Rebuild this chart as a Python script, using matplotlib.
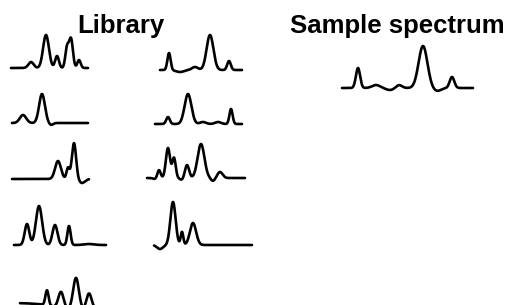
import numpy as np
import matplotlib.pyplot as plt

# each spectrum: list of peaks (centre, height, width), in local units
# (x measured from the start of the trace, height above its baseline)
lib1 = [(20, 6, 2.6), (35, 33, 2.9), (46, 12, 1.9), (56, 20, 1.7), (60, 29, 1.9), (68, 8, 1.7)]
lib2 = [(9, 17, 1.6), (20, -2, 4), (35, 3, 3), (50, 35, 3.4), (69, 9, 1.8)]
lib3 = [(11, 8, 3.2), (30, 29, 2.9), (39, -2, 2)]
lib4 = [(13, 7, 1.8), (33, 30, 3.4), (48, 2, 3), (63, 2, 3), (76, 15, 1.6)]
lib5 = [(46, 18, 2.9), (56, 11, 1.5), (62, 36, 2.1), (70, -4, 3)]
lib6 = [(8, -1, 2), (12, 8, 1.6), (21, 30, 2.1), (27, 20, 1.7), (35, -2, 2), (40, 13, 2.1),
        (54, 34, 3.4), (66, -3, 2), (73, 6, 2.6)]
lib7 = [(13, 21, 2.3), (25, 39, 3.1), (41, 20, 2.5), (55, 19, 1.6), (75, 1, 5)]
lib8 = [(6, -4, 3), (19, 43, 2.6), (28, 13, 1.3), (39, 22, 3.1)]
lib9 = [(27, 15, 1.6), (41, 16, 2.6), (56, 32, 2.9), (69, 16, 2.6), (60, -7, 22)]
sample = [(16, 20, 2.1), (34, 3, 4), (48, -2, 4), (57, 3, 3), (81, 42, 4.4), (95, -3, 4), (110, 11, 2.3)]

library = [lib1, lib2, lib3, lib4, lib5, lib6, lib7, lib8, lib9]
lengths = [77, 82, 76, 87, 77, 98, 92, 98, 82]

titles = ["Library", "Sample spectrum"]

# layout (pixels): start x, baseline y of each trace
lib_pos = [(11, 68), (160, 70), (12, 123), (155, 124), (12, 179),
           (147, 178), (14, 245), (154, 245), (20, 303)]
sample_pos = (342, 88)
sample_len = 131


def trace(peaks, length):
    x = np.linspace(0, length, 400)
    y = np.zeros_like(x)
    for c, h, w in peaks:
        y += h * np.exp(-0.5 * ((x - c) / w) ** 2)
    return x, y


fig = plt.figure(figsize=(5.07, 3.05), dpi=100)
ax = fig.add_axes([0, 0, 1, 1])
ax.set_xlim(0, 507)
ax.set_ylim(305, 0)
ax.axis("off")

for peaks, n, (x0, y0) in zip(library, lengths, lib_pos):
    x, y = trace(peaks, n)
    ax.plot(x0 + x, y0 - y, color="black", lw=1.9, solid_capstyle="round")

x, y = trace(sample, sample_len)
ax.plot(sample_pos[0] + x, sample_pos[1] - y, color="black", lw=1.9, solid_capstyle="round")

ax.text(121, 33, titles[0], ha="center", va="baseline", fontsize=18.5,
        fontweight="bold", family="Liberation Sans")
ax.text(397, 33, titles[1], ha="center", va="baseline", fontsize=18.5,
        fontweight="bold", family="Liberation Sans")

fig.savefig("out.png", dpi=100)
